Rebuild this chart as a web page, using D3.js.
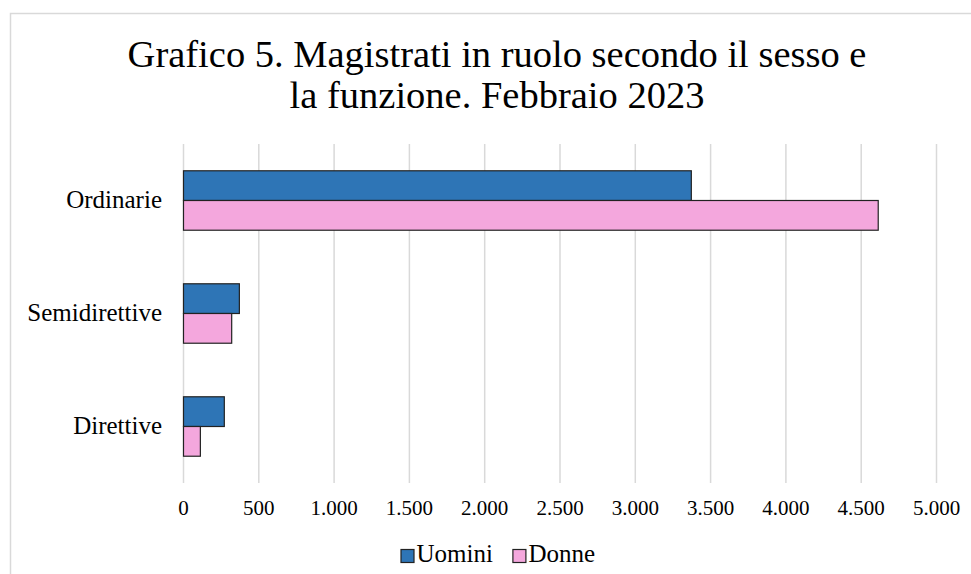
<!DOCTYPE html>
<html>
<head>
    <meta charset="utf-8">
    <style>
        body { margin: 0; background: white; }
        svg { display: block; }
        text { font-family: "Liberation Serif", "Times New Roman", serif; fill: #000; }
    </style>
</head>
<body>
    <svg width="971" height="574"></svg>

<script src="https://d3js.org/d3.v7.min.js"></script>
<script>
    // data
    let categories = ['Ordinarie', 'Semidirettive', 'Direttive']
    let series = ['Uomini', 'Donne']
    let uomini = [3372, 371, 271]
    let donne = [4613, 320, 112]
    let tickValues = [0, 500, 1000, 1500, 2000, 2500, 3000, 3500, 4000, 4500, 5000]
    let titleLines = ['Grafico 5. Magistrati in ruolo secondo il sesso e', 'la funzione. Febbraio 2023']

    let colors = ['#2e75b6', '#f4a7dd']
    let values = { Uomini: uomini, Donne: donne }

    let svg = d3.select('svg')

    // outer frame
    svg.append('rect')
        .attr('x', 10.5)
        .attr('y', 13.5)
        .attr('width', 990)
        .attr('height', 600)
        .style('fill', 'white')
        .style('stroke', '#d9d9d9')
        .style('stroke-width', 1.5)

    // title
    svg.selectAll('.title')
        .data(titleLines)
        .join('text')
        .attr('class', 'title')
        .attr('x', 497)
        .attr('y', (d, i) => 67 + i * 41)
        .attr('text-anchor', 'middle')
        .style('font-size', '38.5px')
        .text(d => d)

    let x = d3.scaleLinear()
        .domain([0, 5000])
        .range([183.5, 936.5])

    let y = d3.scaleBand()
        .domain(categories)
        .range([144, 483])
        .paddingInner(0.474)
        .paddingOuter(0.237)

    let sub = d3.scaleBand()
        .domain(series)
        .range([0, y.bandwidth()])

    // gridlines
    svg.append('g')
        .selectAll('line')
        .data(tickValues)
        .join('line')
        .attr('x1', d => x(d))
        .attr('x2', d => x(d))
        .attr('y1', 144)
        .attr('y2', 483)
        .style('stroke', '#d9d9d9')
        .style('stroke-width', 1.5)

    // tick labels
    let fmt = d => d3.format(',')(d).replace(/,/g, '.')
    svg.append('g')
        .selectAll('text')
        .data(tickValues)
        .join('text')
        .attr('x', d => x(d))
        .attr('y', 515)
        .attr('text-anchor', 'middle')
        .style('font-size', '21px')
        .text(d => fmt(d))

    // category labels
    svg.append('g')
        .selectAll('text')
        .data(categories)
        .join('text')
        .attr('x', 162)
        .attr('y', d => y(d) + y.bandwidth() / 2 + 7)
        .attr('text-anchor', 'end')
        .style('font-size', '25px')
        .text(d => d)

    // bars
    series.forEach((s, si) => {
        svg.append('g')
            .selectAll('rect')
            .data(categories)
            .join('rect')
            .attr('x', x(0))
            .attr('y', (d) => y(d) + sub(s))
            .attr('width', (d, i) => x(values[s][i]) - x(0))
            .attr('height', sub.bandwidth())
            .style('fill', colors[si])
            .style('stroke', '#222')
            .style('stroke-width', 1.2)
    })

    // legend
    let legend = svg.append('g')
    let lx = 401
    series.forEach((s, si) => {
        legend.append('rect')
            .attr('x', lx)
            .attr('y', 549.5)
            .attr('width', 13)
            .attr('height', 13)
            .style('fill', colors[si])
            .style('stroke', '#222')
            .style('stroke-width', 1.2)
        let t = legend.append('text')
            .attr('x', lx + 15.5)
            .attr('y', 562)
            .style('font-size', '25px')
            .text(s)
        lx = lx + 15.5 + t.node().getComputedTextLength() + 20
    })
</script>
</body>
</html>
